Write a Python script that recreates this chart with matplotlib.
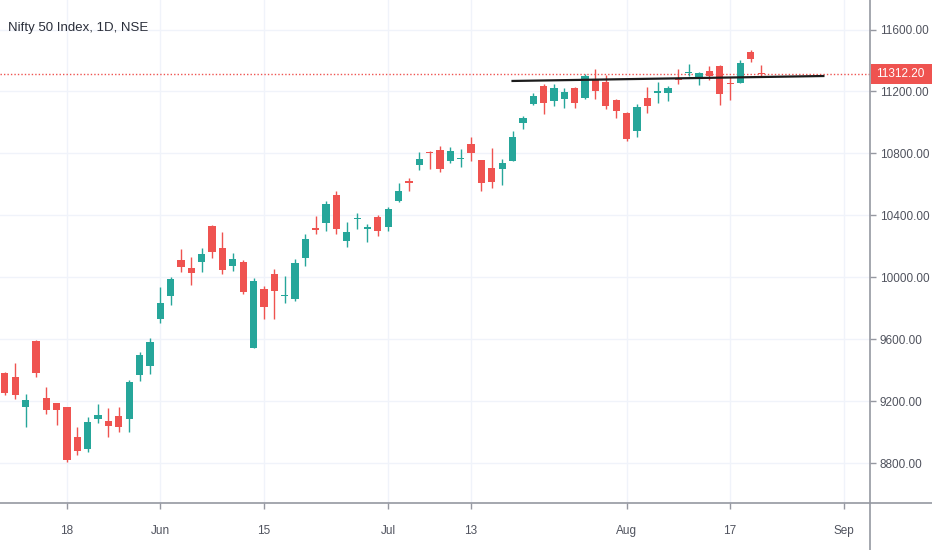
import matplotlib
matplotlib.use("Agg")
import matplotlib.pyplot as plt
import matplotlib.transforms as mtransforms
from matplotlib.lines import Line2D
from matplotlib.patches import Rectangle
import numpy as np

plt.rcParams['font.family'] = ['Liberation Sans', 'DejaVu Sans']

# daily bars, Nifty 50
dates = ["2020-05-08", "2020-05-11", "2020-05-12", "2020-05-13", "2020-05-14", "2020-05-15",
         "2020-05-18", "2020-05-19", "2020-05-20", "2020-05-21", "2020-05-22", "2020-05-26",
         "2020-05-27", "2020-05-28", "2020-05-29", "2020-06-01", "2020-06-02", "2020-06-03",
         "2020-06-04", "2020-06-05", "2020-06-08", "2020-06-09", "2020-06-10", "2020-06-11",
         "2020-06-12", "2020-06-15", "2020-06-16", "2020-06-17", "2020-06-18", "2020-06-19",
         "2020-06-22", "2020-06-23", "2020-06-24", "2020-06-25", "2020-06-26", "2020-06-29",
         "2020-06-30", "2020-07-01", "2020-07-02", "2020-07-03", "2020-07-06", "2020-07-07",
         "2020-07-08", "2020-07-09", "2020-07-10", "2020-07-13", "2020-07-14", "2020-07-15",
         "2020-07-16", "2020-07-17", "2020-07-20", "2020-07-21", "2020-07-22", "2020-07-23",
         "2020-07-24", "2020-07-27", "2020-07-28", "2020-07-29", "2020-07-30", "2020-07-31",
         "2020-08-03", "2020-08-04", "2020-08-05", "2020-08-06", "2020-08-07", "2020-08-10",
         "2020-08-11", "2020-08-12", "2020-08-13", "2020-08-14", "2020-08-17", "2020-08-18",
         "2020-08-19", "2020-08-20"]
future_dates = ["2020-08-21", "2020-08-24", "2020-08-25", "2020-08-26", "2020-08-27",
                "2020-08-28", "2020-08-31", "2020-09-01"]

opens = [9381, 9353, 9164, 9590, 9220, 9186, 9160, 8966, 8888, 9082, 9069, 9104,
         9082, 9368, 9427, 9728, 9879, 10111, 10062, 10097, 10331, 10187, 10073, 10100,
         9545, 9924, 10019, 9880, 9857, 10122, 10316, 10348, 10529, 10232, 10376, 10314,
         10387, 10327, 10493, 10624, 10727, 10809, 10822, 10753, 10762, 10859, 10757, 10708,
         10701, 10753, 10994, 11119, 11235, 11139, 11149, 11224, 11156, 11279, 11259, 11143,
         11063, 10947, 11160, 11192, 11192, 11285, 11319, 11292, 11334, 11365, 11257, 11257,
         11453, 11321]
highs = [9388, 9448, 9246, 9596, 9289, 9190, 9164, 9035, 9095, 9179, 9153, 9160,
         9336, 9515, 9606, 9935, 10004, 10181, 10129, 10187, 10335, 10294, 10155, 10111,
         9993, 9943, 10051, 10008, 10116, 10279, 10396, 10493, 10557, 10359, 10413, 10344,
         10402, 10456, 10607, 10639, 10811, 10817, 10848, 10839, 10826, 10904, 10760, 10833,
         10762, 10945, 11042, 11188, 11248, 11248, 11221, 11231, 11311, 11343, 11306, 11149,
         11065, 11119, 11227, 11263, 11235, 11345, 11378, 11324, 11367, 11371, 11292, 11403,
         11468, 11371]
lows = [9238, 9213, 9035, 9356, 9115, 9045, 8805, 8854, 8873, 9056, 8966, 9000,
        9002, 9332, 9373, 9702, 9821, 10036, 9950, 10036, 10122, 10021, 10040, 9890,
        9540, 9728, 9728, 9836, 9848, 10073, 10279, 10299, 10279, 10197, 10310, 10226,
        10266, 10299, 10488, 10557, 10693, 10697, 10678, 10740, 10710, 10753, 10559, 10575,
        10594, 10750, 10956, 11115, 11055, 11106, 11091, 11091, 11149, 11149, 11089, 11031,
        10880, 10908, 11063, 11128, 11139, 11248, 11302, 11242, 11274, 11113, 11145, 11255,
        11392, 11292]
closes = [9252, 9239, 9205, 9383, 9142, 9142, 8819, 8879, 9067, 9110, 9039, 9031,
          9321, 9498, 9580, 9832, 9987, 10064, 10029, 10148, 10165, 10047, 10116, 9907,
          9976, 9810, 9913, 9888, 10094, 10245, 10305, 10471, 10310, 10294, 10385, 10323,
          10301, 10439, 10555, 10611, 10766, 10801, 10701, 10816, 10772, 10801, 10611, 10617,
          10740, 10908, 11027, 11171, 11128, 11221, 11199, 11128, 11302, 11205, 11106, 11074,
          10893, 11102, 11106, 11203, 11221, 11274, 11328, 11317, 11300, 11182, 11248, 11386,
          11408, 11312.2]

price_ticks = [8800, 9200, 9600, 10000, 10400, 10800, 11200, 11600]
date_ticks = ["2020-05-18", "2020-06-01", "2020-06-15", "2020-07-01", "2020-07-13",
              "2020-08-03", "2020-08-17", "2020-09-01"]
date_tick_labels = ["18", "Jun", "15", "Jul", "13", "Aug", "17", "Sep"]

# horizontal trend line drawn on the chart
trend_dates = ["2020-07-17", "2020-08-28"]
trend_prices = [11268, 11300]

last_price = closes[-1]

UP = '#26a69a'
DOWN = '#ef5350'
GRID = '#f0f3fa'
AXIS = '#9598a1'
TEXT = '#50535e'

all_dates = dates + future_dates
pos = {d: i for i, d in enumerate(all_dates)}

fig = plt.figure(figsize=(9.32, 5.5), dpi=100)
ax = fig.add_axes([0, 47 / 550, 870 / 932, 503 / 550])

o = np.array(opens, dtype=float)
h = np.array(highs, dtype=float)
l = np.array(lows, dtype=float)
c = np.array(closes, dtype=float)
x = np.arange(len(dates))
cols = [UP if cc >= oo else DOWN for oo, cc in zip(o, c)]

ax.vlines(x, l, h, colors=cols, linewidth=1, zorder=3)
body_h = np.maximum(np.abs(c - o), 5)
ax.bar(x, body_h, bottom=np.minimum(o, c), width=0.7, color=cols, linewidth=0, zorder=4)

# trend line and last price line
ax.plot([pos[d] for d in trend_dates], trend_prices, color='#1c1c1c', linewidth=1.6, zorder=5)
ax.axhline(last_price, color=DOWN, linestyle=(0, (1, 1.5)), linewidth=1, zorder=2)

ax.set_xlim(-0.47, 83.5)
ax.set_ylim(8542, 11791)

ax.set_yticks(price_ticks)
ax.set_yticklabels([f"{p:.2f}" for p in price_ticks])
ax.yaxis.tick_right()
ax.set_xticks([pos[d] for d in date_ticks])
ax.set_xticklabels(date_tick_labels)

ax.tick_params(axis='y', colors=AXIS, labelcolor=TEXT, labelsize=8.5, length=4, width=1, pad=3)
ax.tick_params(axis='x', colors=AXIS, labelcolor=TEXT, labelsize=8.5, length=4, width=1, pad=12)
ax.grid(True, color=GRID, linewidth=1, zorder=0)
ax.set_axisbelow(True)

for s in ['top', 'left', 'right', 'bottom']:
    ax.spines[s].set_visible(False)

# axis lines running through the whole picture, as in the price/time scales
fig.add_artist(Line2D([0, 1], [47 / 550, 47 / 550], color=AXIS, linewidth=1.2))
fig.add_artist(Line2D([870 / 932, 870 / 932], [0, 1], color=AXIS, linewidth=1.2))

# last price tag on the price scale
trans = mtransforms.blended_transform_factory(fig.transFigure, ax.transData)
tag_h = 20 * (11791 - 8542) / 503
ax.add_patch(Rectangle((871 / 932, last_price - tag_h / 2), 61 / 932, tag_h, transform=trans,
                       facecolor=DOWN, edgecolor='none', zorder=9, clip_on=False))
ax.text(900 / 932, last_price, f"{last_price:.2f}", transform=trans, ha='center',
        va='center', color='white', fontsize=8.5, zorder=10, clip_on=False)

fig.text(8 / 932, 1 - 28 / 550, "Nifty 50 Index, 1D, NSE", ha='left', va='center',
         fontsize=9.5, color='#2a2e39')

fig.savefig("out.png", dpi=100, facecolor='white')
